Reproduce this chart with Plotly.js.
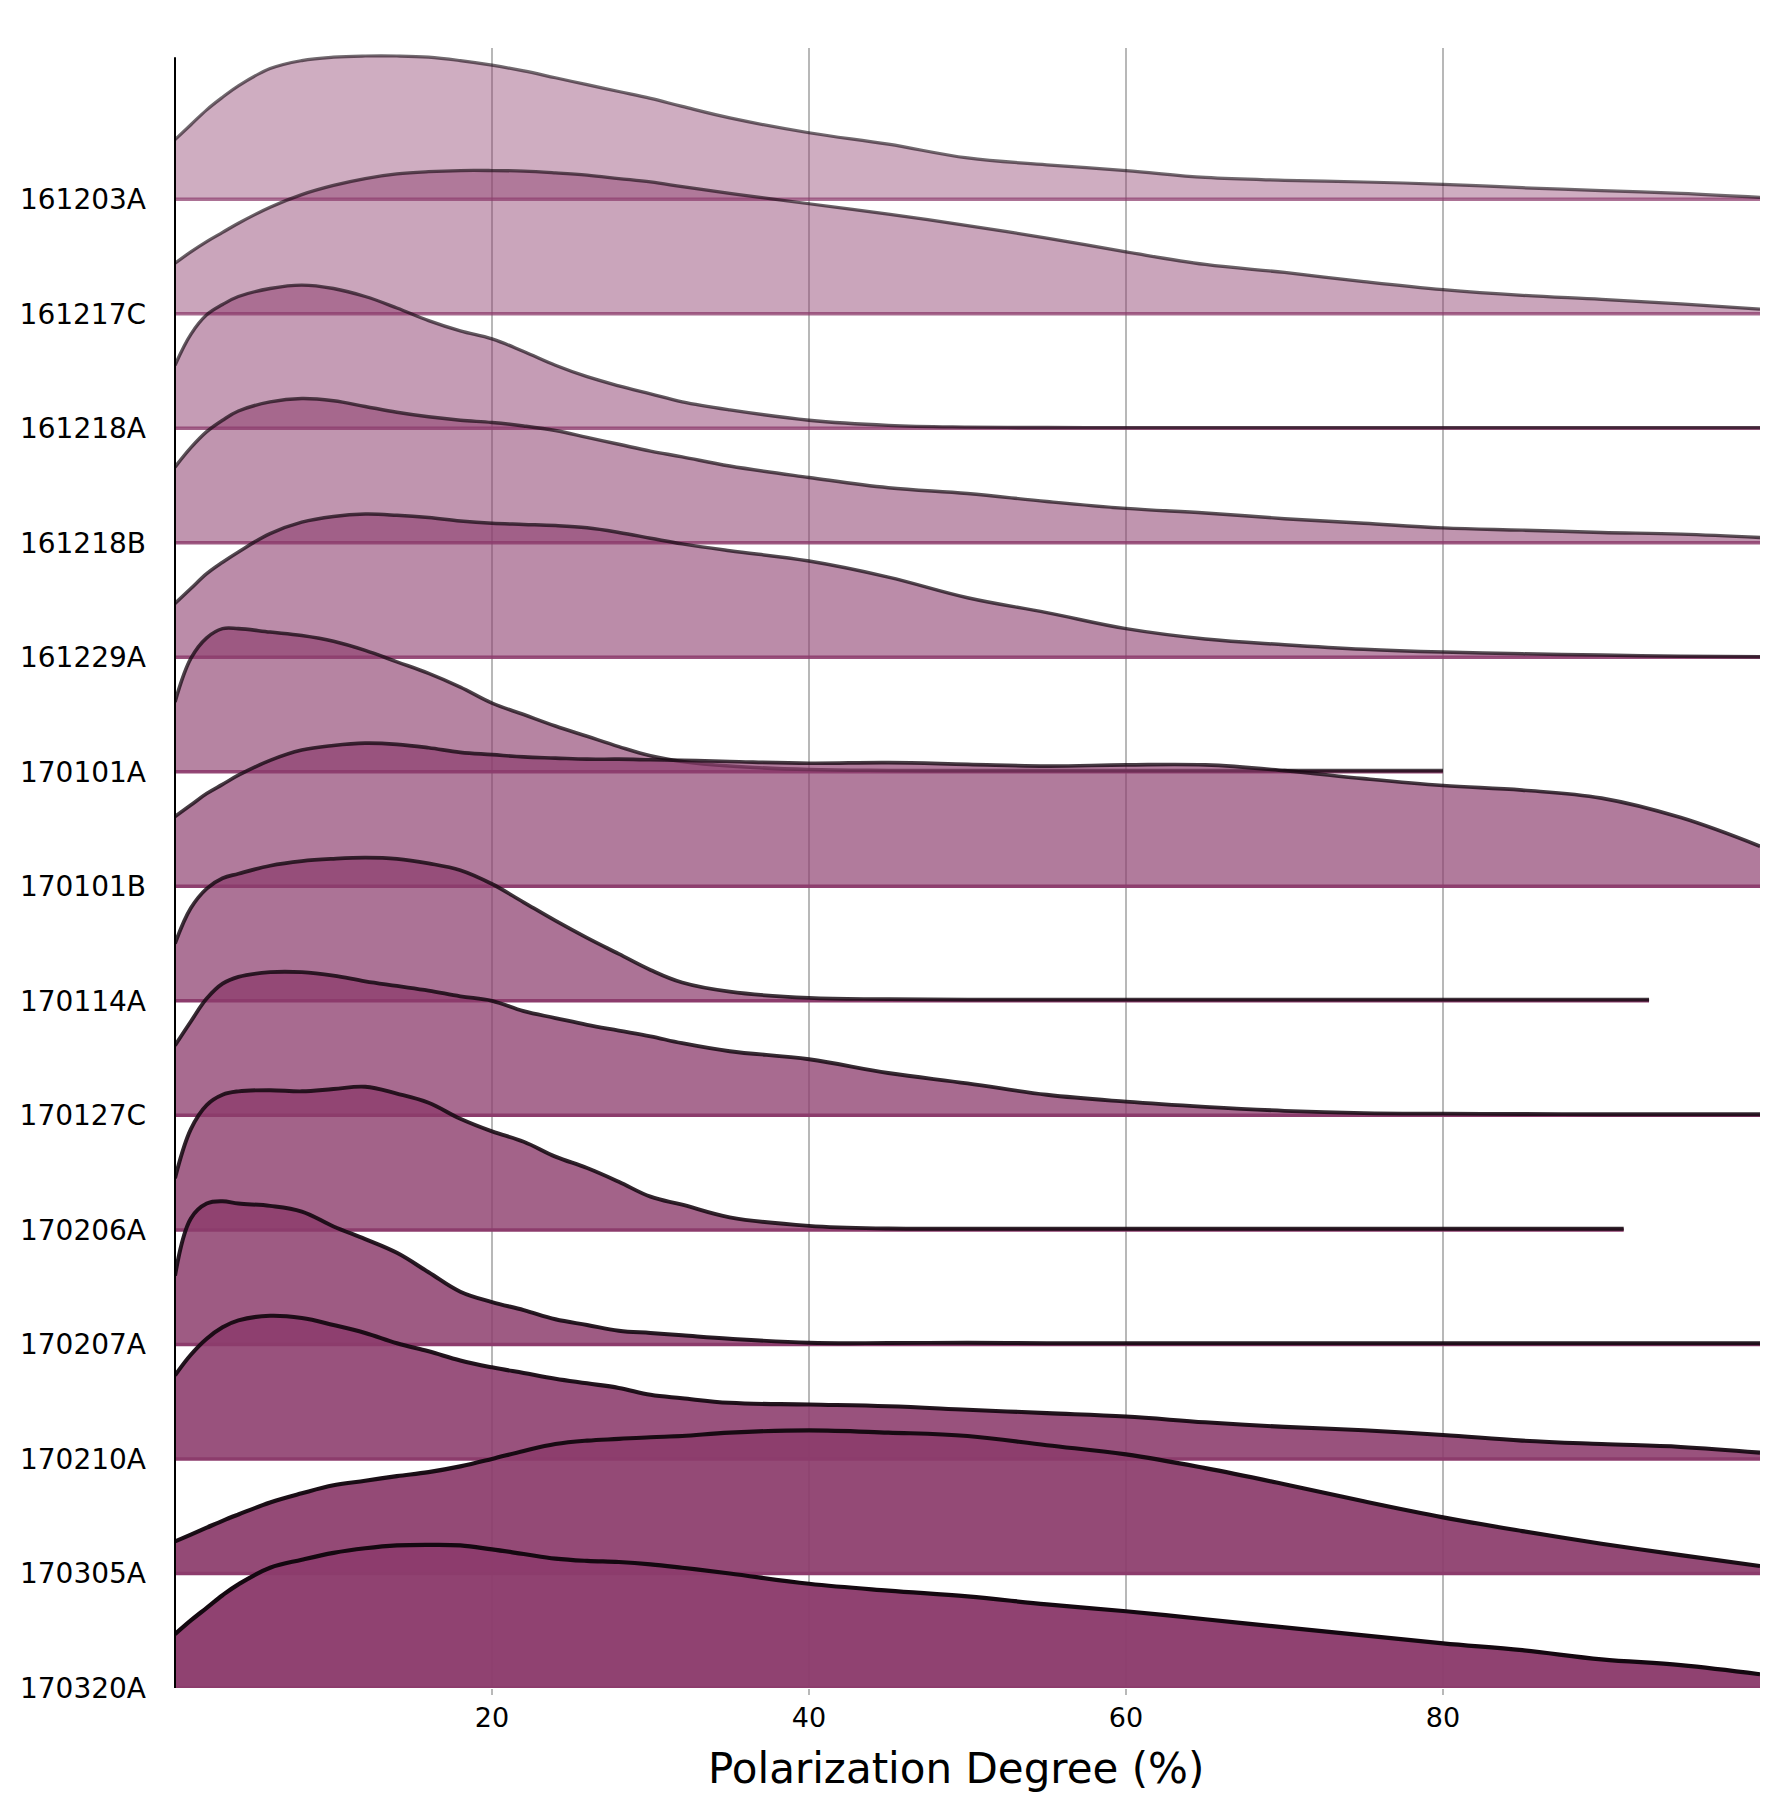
<!DOCTYPE html>
<html>
<head>
<meta charset="utf-8">
<script src="https://cdn.plot.ly/plotly-3.0.1.min.js"></script>
<style>html,body{margin:0;padding:0;background:#fff;}#chart{width:1780px;height:1800px;}</style>
</head>
<body>
<div id="chart"></div>
<script>
// Categories, top to bottom
const categories = ["161203A","161217C","161218A","161218B","161229A","170101A","170101B","170114A","170127C","170206A","170207A","170210A","170305A","170320A"];

// Common x grid (Polarization Degree, %)
const xGrid = [0,1,2,3,4,6,8,10,12,14,16,18,20,22,24,26,28,30,32,35,40,45,50,55,60,65,70,75,80,85,90,95,100];
// Truncated grids
const x170101A = [0,1,2,3,4,6,8,10,12,14,16,18,20,22,24,26,28,30,32,35,40,45,50,55,60,65,70,75,80];
const x170114A = [0,1,2,3,4,6,8,10,12,14,16,18,20,22,24,26,28,30,32,35,40,45,50,55,60,65,70,75,80,85,90,93];
const x170206A = [0,1,2,3,4,6,8,10,12,14,16,18,20,22,24,26,28,30,32,35,40,45,50,55,60,65,70,75,80,85,90,91.4];

// Ridge heights (density, scaled to row spacing)
const d161203A = [0.52,0.65,0.78,0.89,0.99,1.14,1.21,1.24,1.25,1.25,1.24,1.21,1.17,1.12,1.06,1.00,0.94,0.88,0.81,0.71,0.58,0.48,0.36,0.30,0.25,0.19,0.165,0.15,0.13,0.10,0.075,0.05,0.015];
const d161217C = [0.44,0.54,0.63,0.71,0.79,0.93,1.04,1.12,1.18,1.22,1.24,1.25,1.25,1.245,1.23,1.21,1.18,1.15,1.11,1.05,0.96,0.87,0.77,0.66,0.54,0.43,0.36,0.28,0.21,0.16,0.125,0.085,0.04];
const d161218A = [0.55,0.82,0.99,1.08,1.15,1.22,1.25,1.22,1.15,1.05,0.94,0.85,0.78,0.67,0.55,0.45,0.37,0.30,0.23,0.16,0.07,0.025,0.01,0.006,0.005,0.005,0.005,0.005,0.005,0.005,0.005,0.005,0.005];
const d161218B = [0.66,0.83,0.97,1.07,1.15,1.23,1.26,1.24,1.19,1.14,1.10,1.07,1.05,1.02,0.98,0.92,0.86,0.80,0.75,0.67,0.57,0.48,0.43,0.36,0.30,0.26,0.21,0.17,0.13,0.11,0.09,0.075,0.045];
const d161229A = [0.47,0.60,0.73,0.83,0.92,1.08,1.18,1.23,1.25,1.24,1.22,1.19,1.17,1.16,1.15,1.13,1.09,1.04,0.99,0.93,0.84,0.70,0.52,0.39,0.25,0.16,0.11,0.07,0.045,0.03,0.02,0.008,0.004];
const d170101A = [0.61,0.99,1.17,1.25,1.25,1.22,1.19,1.14,1.06,0.96,0.86,0.74,0.60,0.50,0.40,0.31,0.22,0.14,0.09,0.05,0.02,0.012,0.01,0.01,0.01,0.01,0.01,0.01,0.01];
const d170101B = [0.61,0.71,0.81,0.89,0.97,1.10,1.19,1.23,1.25,1.24,1.21,1.17,1.15,1.13,1.12,1.11,1.11,1.105,1.10,1.09,1.075,1.08,1.065,1.05,1.06,1.06,1.01,0.94,0.88,0.84,0.77,0.60,0.35];
const d170114A = [0.50,0.81,0.98,1.07,1.11,1.18,1.22,1.24,1.25,1.24,1.20,1.14,1.02,0.86,0.70,0.55,0.41,0.27,0.16,0.08,0.025,0.015,0.01,0.01,0.01,0.01,0.01,0.01,0.01,0.01,0.01,0.01];
const d170127C = [0.61,0.82,1.02,1.15,1.21,1.25,1.25,1.22,1.17,1.13,1.09,1.04,1.00,0.91,0.85,0.79,0.74,0.69,0.63,0.56,0.49,0.37,0.28,0.18,0.12,0.075,0.04,0.02,0.015,0.012,0.01,0.01,0.01];
const d170206A = [0.45,0.88,1.09,1.18,1.21,1.22,1.21,1.23,1.25,1.19,1.11,0.97,0.86,0.77,0.64,0.54,0.42,0.29,0.22,0.11,0.035,0.012,0.01,0.01,0.01,0.01,0.01,0.01,0.01,0.01,0.01,0.01];
const d170207A = [0.60,1.10,1.23,1.25,1.23,1.21,1.16,1.03,0.92,0.80,0.63,0.46,0.37,0.30,0.22,0.17,0.12,0.10,0.08,0.05,0.015,0.012,0.015,0.01,0.01,0.01,0.01,0.01,0.01,0.01,0.01,0.01,0.01];
const d170210A = [0.73,0.91,1.05,1.15,1.21,1.25,1.23,1.17,1.10,1.01,0.94,0.86,0.80,0.75,0.70,0.66,0.62,0.56,0.53,0.49,0.475,0.46,0.43,0.40,0.37,0.32,0.28,0.25,0.21,0.16,0.13,0.105,0.055];
const d170305A = [0.28,0.34,0.40,0.46,0.515,0.62,0.70,0.77,0.81,0.85,0.885,0.935,1.00,1.07,1.13,1.16,1.175,1.19,1.20,1.23,1.25,1.23,1.20,1.12,1.04,0.92,0.78,0.63,0.49,0.37,0.26,0.16,0.065];
const d170320A = [0.47,0.59,0.70,0.81,0.905,1.05,1.12,1.18,1.22,1.245,1.25,1.245,1.21,1.17,1.13,1.11,1.10,1.08,1.05,1.00,0.91,0.85,0.80,0.73,0.67,0.60,0.53,0.46,0.39,0.33,0.25,0.20,0.12];

const xTicks = [20,40,60,80];
const xTitle = 'Polarization Degree (%)';

const ridgeX = [xGrid,xGrid,xGrid,xGrid,xGrid,x170101A,xGrid,x170114A,xGrid,x170206A,xGrid,xGrid,xGrid,xGrid];
const ridgeD = [d161203A,d161217C,d161218A,d161218B,d161229A,d170101A,d170101B,d170114A,d170127C,d170206A,d170207A,d170210A,d170305A,d170320A];

const n = categories.length;
const traces = [];
for (let i = 0; i < n; i++) {
  const base = n - 1 - i;
  const xs = ridgeX[i];
  const ys = ridgeD[i].map(v => base + v);
  const t = i / (n - 1);
  const fa = 0.42 + 0.55 * t;
  const la = 0.6 + 0.4 * t;
  const ba = Math.min(1, fa + 0.3);
  traces.push({
    x: [xs[0], xs[xs.length - 1]], y: [base, base],
    type: 'scatter', mode: 'lines', hoverinfo: 'skip', showlegend: false,
    line: {color: `rgba(140,60,108,${ba.toFixed(3)})`, width: 3.5}
  });
  traces.push({
    x: xs, y: ys, name: categories[i],
    type: 'scatter', mode: 'lines', fill: 'tonexty', showlegend: false,
    fillcolor: `rgba(140,60,108,${fa.toFixed(3)})`,
    line: {color: `rgba(20,8,16,${la.toFixed(3)})`, width: 3.2 + 1 * t, shape: 'spline', smoothing: 1.1}
  });
}

const layout = {
  width: 1780, height: 1800,
  paper_bgcolor: '#ffffff', plot_bgcolor: '#ffffff',
  margin: {l: 175, r: 20, t: 48, b: 112, pad: 0},
  font: {family: 'DejaVu Sans, sans-serif', color: '#000'},
  showlegend: false,
  xaxis: {
    range: [0, 100], tickvals: xTicks, ticktext: xTicks.map(String),
    showgrid: true, gridcolor: '#b8b8b8', gridwidth: 2,
    zeroline: false, showline: false,
    ticks: 'outside', ticklen: 6, tickwidth: 2, tickcolor: '#b8b8b8',
    tickfont: {size: 27, family: 'DejaVu Sans', color: '#000'}
  },
  yaxis: {
    range: [0, 14.32],
    tickvals: categories.map((c, i) => n - 1 - i), ticktext: categories,
    showgrid: false, zeroline: false, showline: false,
    ticks: '', ticklabelstandoff: 28,
    tickfont: {size: 28, family: 'DejaVu Sans', color: '#000'}
  },
  annotations: [{
    text: xTitle, xref: 'paper', yref: 'paper', x: 0.4928, y: -0.0488,
    xanchor: 'center', yanchor: 'middle', showarrow: false,
    font: {size: 42, family: 'DejaVu Sans', color: '#000'}
  }],
  shapes: [{
    type: 'line', xref: 'paper', yref: 'y', x0: 0, x1: 0, y0: 0, y1: 14.24,
    line: {color: '#000', width: 2}, layer: 'above'
  }]
};

Plotly.newPlot('chart', traces, layout, {staticPlot: true, displayModeBar: false});
</script>
</body>
</html>
